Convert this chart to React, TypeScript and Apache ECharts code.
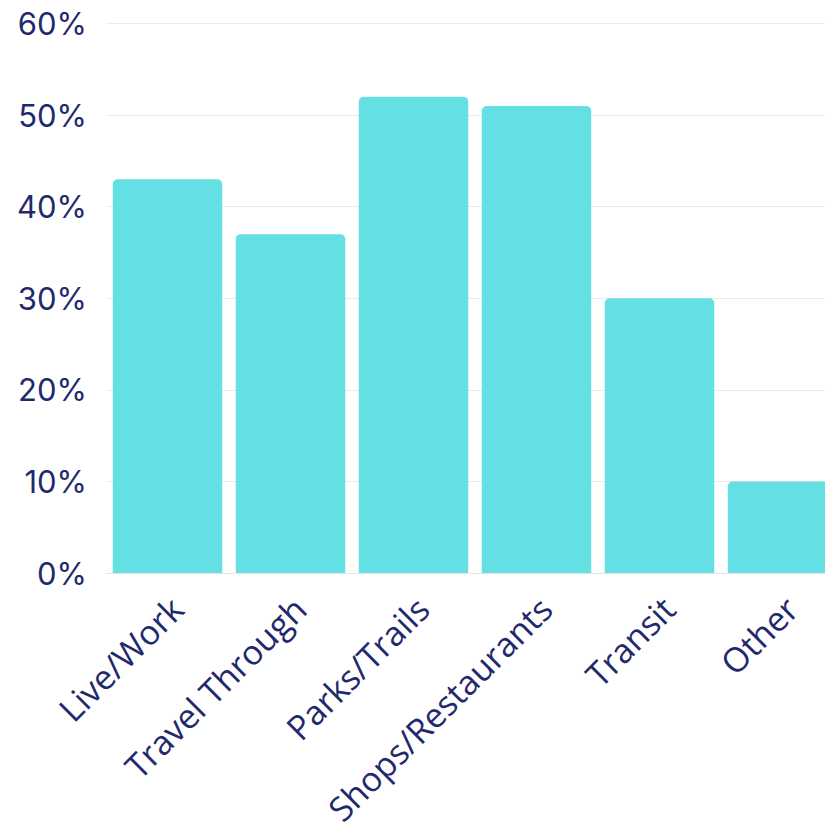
import React, { useEffect, useRef } from "react";
import * as echarts from "echarts";

const categories = ["Live/Work", "Travel Through", "Parks/Trails", "Shops/Restaurants", "Transit", "Other"];
const values = [43, 37, 52, 51, 30, 10];
const yTicks = { min: 0, max: 60, interval: 10 };

export default function App() {
  const ref = useRef<HTMLDivElement>(null);
  useEffect(() => {
    document.body.style.overflow = "hidden";
    const chart = echarts.init(ref.current!, undefined, { renderer: "svg" });
    const textColor = "#1f2a6e";
    chart.setOption({
      animation: false,
      grid: { left: 98, right: 14, top: 14, bottom: 265, containLabel: false },
      xAxis: {
        type: "category",
        data: categories,
        axisLine: { show: true, lineStyle: { color: "#e4e4e4", width: 1 } },
        axisTick: { show: false },
        axisLabel: {
          rotate: 45,
          interval: 0,
          margin: 39,
          padding: [0, -13, 0, 0],
          color: textColor,
          fontSize: 34,
          fontFamily: "Open Sans",
        },
      },
      yAxis: {
        type: "value",
        min: yTicks.min,
        max: yTicks.max,
        interval: yTicks.interval,
        axisLine: { show: false },
        axisTick: { show: false },
        splitLine: { lineStyle: { color: "#ececec", width: 1 } },
        axisLabel: {
          formatter: "{value}%",
          margin: 19,
          color: textColor,
          fontSize: 31,
          fontFamily: "Inter",
        },
      },
      series: [
        {
          type: "bar",
          data: values,
          barCategoryGap: "11%",
          itemStyle: { color: "#64dfe3", borderRadius: [5, 5, 0, 0] },
        },
      ],
    });
    return () => {
      chart.dispose();
    };
  }, []);
  return <div ref={ref} style={{ width: 850, height: 830 }} />;
}
